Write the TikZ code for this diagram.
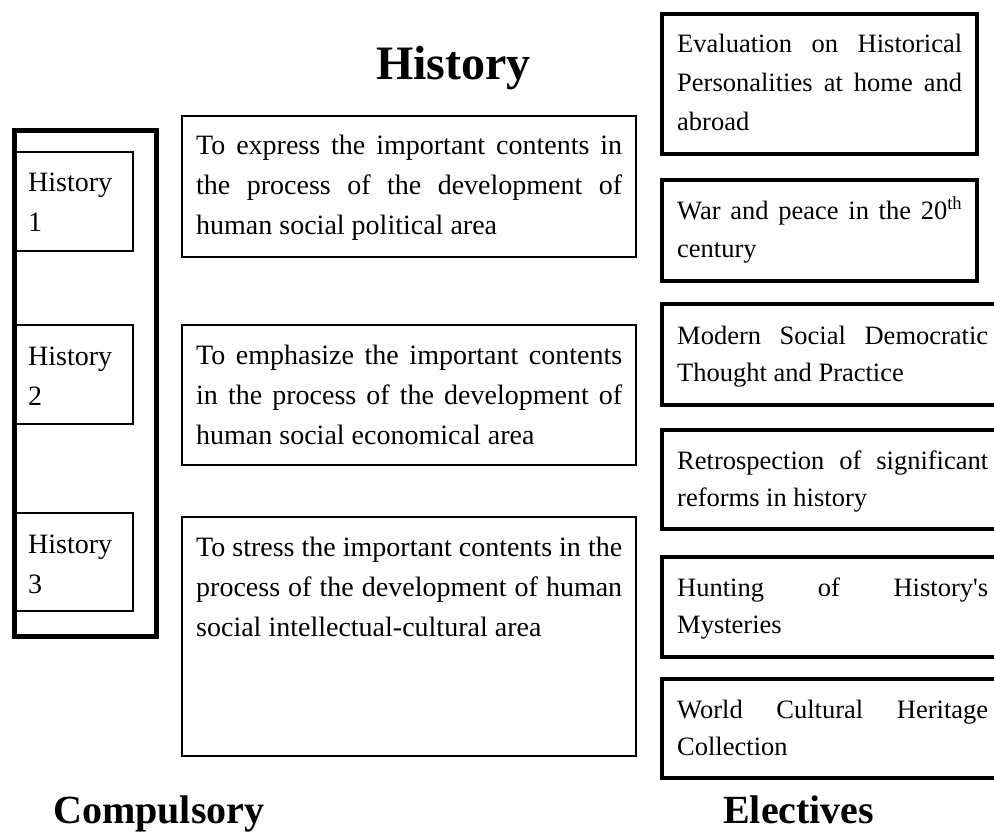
\documentclass[tikz,border=0pt]{standalone}
\usepackage{fontspec}
\setmainfont{Liberation Serif}
\newcommand\jl[1]{\hbox to \hsize{#1}}
\newcommand\tb[2]{\vtop{\hsize=#1\relax #2}}
\tikzset{
  body/.style={anchor=base west, inner sep=0pt, font=\fontsize{26.5}{39}\selectfont},
  bodyr/.style={anchor=base west, inner sep=0pt, font=\fontsize{26.5}{37.5}\selectfont},
  bodyh/.style={anchor=base west, inner sep=0pt, font=\fontsize{28}{40}\selectfont},
  bigtitle/.style={anchor=base west, inner sep=0pt, font=\fontsize{48}{56}\selectfont\bfseries},
  subtitle/.style={anchor=base west, inner sep=0pt, font=\fontsize{40}{48}\selectfont\bfseries},
  outerbox/.style={draw, line width=5pt},
  histbox/.style={draw, line width=2pt},
  midbox/.style={draw, line width=2.2pt},
  elecbox/.style={draw, line width=4pt},
}
\begin{document}
\begin{tikzpicture}[x=1pt,y=-1pt]
\useasboundingbox (0,0) rectangle (994,832);

% titles
\node[bigtitle] (thist) at (376,80) {History};
\node[subtitle] (tcomp) at (53,823) {Compulsory};
\node[subtitle] (telec) at (723,823) {Electives};

% compulsory column
\draw[outerbox] (14.5,130.5) rectangle (156.5,636);
\draw[histbox] (15,152) rectangle (133,251);
\draw[histbox] (13,325) rectangle (133,424);
\draw[histbox] (13,513) rectangle (133,611);
\node[bodyh] (h1) at (28,192) {\tb{100pt}{\hbox{History}\hbox{1}}};
\node[bodyh] (h2) at (28,365) {\tb{100pt}{\hbox{History}\hbox{2}}};
\node[bodyh] (h3) at (28,553) {\tb{100pt}{\hbox{History}\hbox{3}}};

% middle boxes
\draw[midbox] (182,116) rectangle (636,257);
\draw[midbox] (182,325) rectangle (636,465);
\draw[midbox] (182,517) rectangle (636,756);
\node[bodyh] (m1) at (196,155) {\tb{426pt}{\jl{To express the important contents in}\jl{the process of the development of}\hbox{human social political area}}};
\node[bodyh] (m2) at (196,364) {\tb{426pt}{\jl{To emphasize the important contents}\jl{in the process of the development of}\hbox{human social economical area}}};
\node[bodyh] (m3) at (196,556) {\tb{426pt}{\jl{To stress the important contents in the}\jl{process of the development of human}\hbox{social intellectual-cultural area}}};

% electives
\draw[elecbox] (662,14) rectangle (977,154);
\draw[elecbox] (662,180) rectangle (977,281);
\draw[elecbox] (662,304) rectangle (1003,405);
\draw[elecbox] (662,430) rectangle (1003,529);
\draw[elecbox] (662,557) rectangle (1003,657);
\draw[elecbox] (662,679) rectangle (1003,778);
\node[body] (e1) at (677,53) {\tb{285pt}{\jl{Evaluation on Historical}\jl{Personalities at home and}\hbox{abroad}}};
\node[body] (e2) at (677,219) {\tb{285pt}{\jl{War and peace in the 20\textsuperscript{th}}\hbox{century}}};
\node[bodyr] (e3) at (677,344) {\tb{311pt}{\jl{Modern Social Democratic}\hbox{Thought and Practice}}};
\node[bodyr] (e4) at (677,469) {\tb{311pt}{\jl{Retrospection of significant}\hbox{reforms in history}}};
\node[bodyr] (e5) at (677,596) {\tb{311pt}{\jl{Hunting of History\textquotesingle s}\hbox{Mysteries}}};
\node[bodyr] (e6) at (677,718) {\tb{311pt}{\jl{World Cultural Heritage}\hbox{Collection}}};
\end{tikzpicture}
\end{document}
